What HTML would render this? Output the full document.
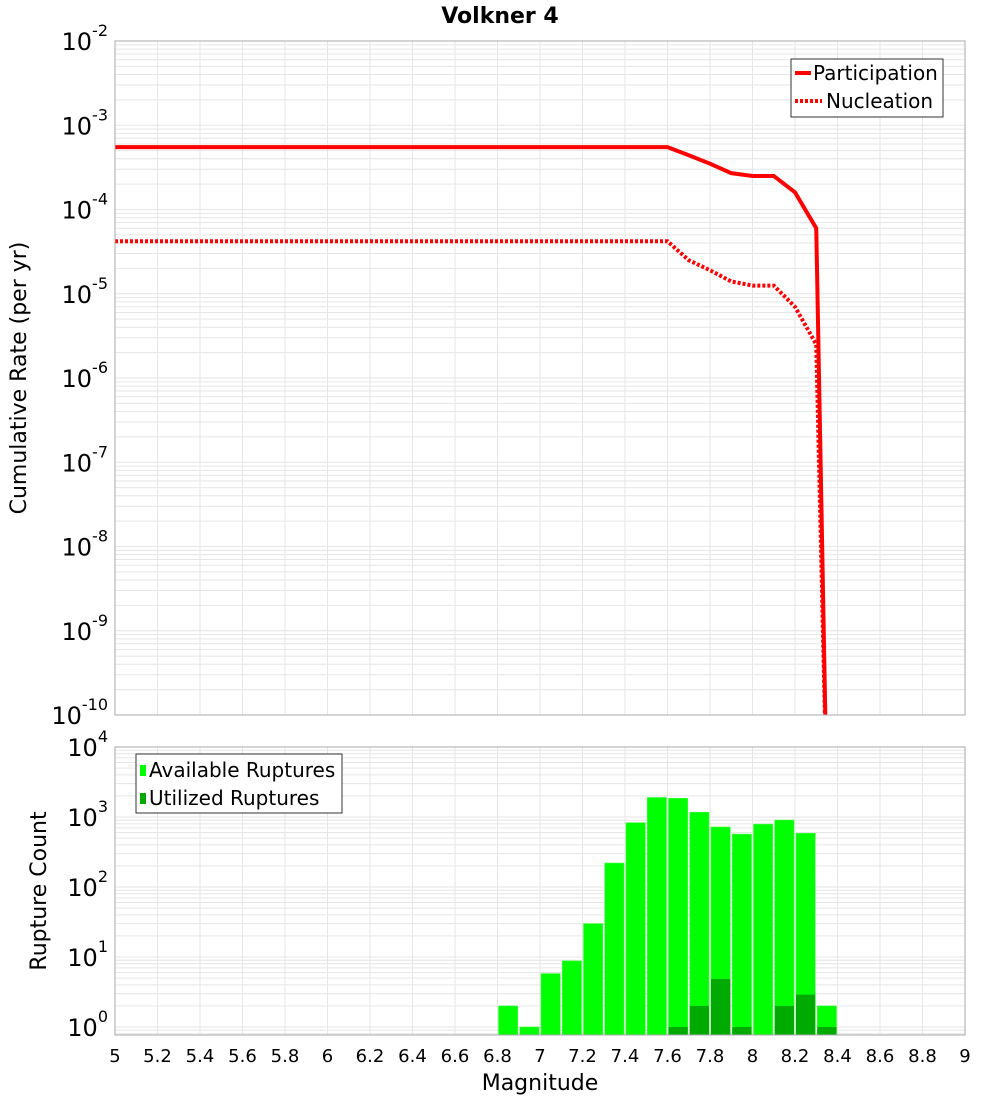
<!DOCTYPE html>
<html><head><meta charset="utf-8"><style>
body{margin:0;background:#fff;font-family:"Liberation Sans","DejaVu Sans",sans-serif;}
svg text{font-family:"DejaVu Sans","Liberation Sans",sans-serif;}
</style></head><body>
<svg id="chart" width="1000" height="1100" xmlns="http://www.w3.org/2000/svg">
<text x="500" y="23" text-anchor="middle" font-size="22" font-weight="bold">Volkner 4</text>
<g id="topG"></g><g id="botG"></g>
<text transform="translate(26,378) rotate(-90)" text-anchor="middle" font-size="22">Cumulative Rate (per yr)</text>
<text transform="translate(46,891) rotate(-90)" text-anchor="middle" font-size="22">Rupture Count</text>
<text x="540" y="1090" text-anchor="middle" font-size="22">Magnitude</text>
<g>
<rect x="791" y="59" width="152" height="58" fill="#fff" stroke="#333" stroke-width="1"/>
<line x1="795" y1="73" x2="811" y2="73" stroke="#f00" stroke-width="4"/>
<text x="813" y="80" font-size="20">Participation</text>
<line x1="795" y1="101" x2="822" y2="101" stroke="#f00" stroke-width="4" stroke-dasharray="3,2"/>
<text x="826" y="108" font-size="20">Nucleation</text>
</g>
<g>
<rect x="136" y="754" width="206" height="59" fill="#fff" stroke="#333" stroke-width="1"/>
<rect x="140" y="765" width="6" height="11" fill="#00ff00"/>
<text x="149" y="777" font-size="20">Available Ruptures</text>
<rect x="140" y="793" width="6" height="11" fill="#00aa00"/>
<text x="149" y="805" font-size="20">Utilized Ruptures</text>
</g>
</svg>
<script>
const xTicks=[5,5.2,5.4,5.6,5.8,6,6.2,6.4,6.6,6.8,7,7.2,7.4,7.6,7.8,8,8.2,8.4,8.6,8.8,9];
const curveMags=[5,5.1,5.2,5.3,5.4,5.5,5.6,5.7,5.8,5.9,6,6.1,6.2,6.3,6.4,6.5,6.6,6.7,6.8,6.9,7,7.1,7.2,7.3,7.4,7.5,7.6,7.7,7.8,7.9,8.0,8.1,8.2,8.3,8.35];
const participation=[5.5e-4,5.5e-4,5.5e-4,5.5e-4,5.5e-4,5.5e-4,5.5e-4,5.5e-4,5.5e-4,5.5e-4,5.5e-4,5.5e-4,5.5e-4,5.5e-4,5.5e-4,5.5e-4,5.5e-4,5.5e-4,5.5e-4,5.5e-4,5.5e-4,5.5e-4,5.5e-4,5.5e-4,5.5e-4,5.5e-4,5.5e-4,4.4e-4,3.5e-4,2.7e-4,2.5e-4,2.5e-4,1.6e-4,6e-5,1e-11];
const nucleation=[4.2e-5,4.2e-5,4.2e-5,4.2e-5,4.2e-5,4.2e-5,4.2e-5,4.2e-5,4.2e-5,4.2e-5,4.2e-5,4.2e-5,4.2e-5,4.2e-5,4.2e-5,4.2e-5,4.2e-5,4.2e-5,4.2e-5,4.2e-5,4.2e-5,4.2e-5,4.2e-5,4.2e-5,4.2e-5,4.2e-5,4.2e-5,2.5e-5,1.9e-5,1.4e-5,1.25e-5,1.25e-5,7e-6,2.5e-6,1e-11];
const binMags=[6.85,6.95,7.05,7.15,7.25,7.35,7.45,7.55,7.65,7.75,7.85,7.95,8.05,8.15,8.25,8.35];
const available=[2,1,5.8,8.8,30,220,830,1900,1850,1170,720,570,790,905,585,2];
const utilized=[0,0,0,0,0,0,0,0,1,2,4.85,1,0,2,2.9,1];
const topExps=[-2,-3,-4,-5,-6,-7,-8,-9,-10];
const botExps=[4,3,2,1,0];

const NS="http://www.w3.org/2000/svg";
const L=115,R=965,T1=41,B1=715,T2=747,B2=1035;
const xS=m=>L+(m-5)*(R-L)/4;
const yTop=v=>T1+(-2-Math.log10(v))*(B1-T1)/8;
const yBot=v=>1027-70*Math.log10(v);
function mk(p,tag,a){const e=document.createElementNS(NS,tag);for(const k in a)e.setAttribute(k,a[k]);p.appendChild(e);return e;}
const topG=document.getElementById('topG'),botG=document.getElementById('botG');




const defs=mk(document.getElementById('chart'),'defs',{});
const c1=mk(defs,'clipPath',{id:'c1'});mk(c1,'rect',{x:L,y:T1,width:R-L,height:B1-T1});
const c2=mk(defs,'clipPath',{id:'c2'});mk(c2,'rect',{x:L,y:T2,width:R-L,height:B2-T2});
function grid(g,y0,y1,yf,decs){
  const gg=mk(g,'g',{});
  
  
  xTicks.forEach(t=>mk(gg,'line',{x1:xS(t),x2:xS(t),y1:y0,y2:y1,stroke:'#e6e6e6','stroke-width':1}));
  decs.forEach(d=>{for(let k=1;k<10;k++){const y=yf(k*Math.pow(10,d));if(y>=y0&&y<=y1)mk(gg,'line',{x1:L,x2:R,y1:y,y2:y,stroke:'#e6e6e6','stroke-width':1});}});
}
grid(topG,T1,B1,yTop,[-10,-9,-8,-7,-6,-5,-4,-3,-2]);
grid(botG,T2,B2,yBot,[-1,0,1,2,3]);
function line(vals,dash,name){
  const p=mk(topG,'polyline',{points:curveMags.map((m,i)=>xS(m)+','+yTop(vals[i])).join(' '),fill:'none',stroke:'#f00','stroke-width':4,'clip-path':'url(#c1)'});
  if(dash)p.setAttribute('stroke-dasharray','3,2');
  
  
}
line(participation,false,'participation-line');
line(nucleation,true,'nucleation-line');
binMags.forEach((m,i)=>{
  const x0=xS(m-0.05)+1,w=xS(m+0.05)-xS(m-0.05)-2;
  const y=yBot(available[i]);
  const b=mk(botG,'rect',{x:x0,y:y,width:w,height:B2-y,fill:'#00ff00',stroke:'#44ff44','stroke-width':0.6,'clip-path':'url(#c2)'});
  
  
  if(utilized[i]>0){const yu=yBot(utilized[i]);
    const u=mk(botG,'rect',{x:x0,y:yu,width:w,height:B2-yu,fill:'#00aa00','clip-path':'url(#c2)'});
    
    }
});
mk(topG,'rect',{x:L,y:T1,width:R-L,height:B1-T1,fill:'none',stroke:'#aaa','stroke-width':1});
mk(botG,'rect',{x:L,y:T2,width:R-L,height:B2-T2,fill:'none',stroke:'#aaa','stroke-width':1});
function ylab(g,e,y){
  const t=mk(g,'text',{x:108,y:y+9,'text-anchor':'end','font-size':24});
  
  
  const a=document.createElementNS(NS,'tspan');a.textContent='10';t.appendChild(a);
  const b=document.createElementNS(NS,'tspan');b.setAttribute('dy','-14');b.setAttribute('font-size','16');b.textContent=String(e);t.appendChild(b);
}
topExps.forEach(e=>ylab(topG,e,yTop(Math.pow(10,e))));
botExps.forEach(e=>ylab(botG,e,yBot(Math.pow(10,e))));
xTicks.forEach(t=>{const s=mk(botG,'text',{x:xS(t),y:1062,'text-anchor':'middle','font-size':18});s.textContent=String(t);
  
  });
</script>
</body></html>
